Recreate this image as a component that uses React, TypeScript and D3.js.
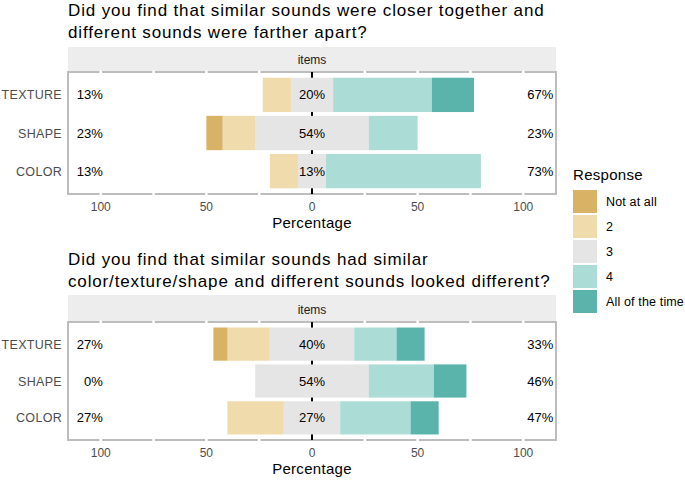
import * as d3 from "d3";
import React from "react";

const items = ["TEXTURE", "SHAPE", "COLOR"];
const levels = ["Not at all", "2", "3", "4", "All of the time"];
const levelColors = ["#D8B365", "#EFDBAC", "#E5E5E5", "#ABDCD5", "#5AB4AC"];

const title1 = [
  "Did you find that similar sounds were closer together and",
  "different sounds were farther apart?",
];
const title2 = [
  "Did you find that similar sounds had similar",
  "color/texture/shape and different sounds looked different?",
];

// percentages per item (TEXTURE, SHAPE, COLOR)
const q1NotAtAll = [0, 7.7, 0];
const q1Two = [13.3, 15.4, 13.3];
const q1Three = [20, 53.8, 13.3];
const q1Four = [46.7, 23.1, 73.3];
const q1All = [20, 0, 0];

const q2NotAtAll = [6.7, 0, 0];
const q2Two = [20, 0, 26.7];
const q2Three = [40, 53.8, 26.7];
const q2Four = [20, 30.8, 33.3];
const q2All = [13.3, 15.4, 13.3];

const ticks = [-100, -50, 0, 50, 100];
const gridVals = [-100, -75, -50, -25, 25, 50, 75, 100];

const FONT = "'Liberation Sans', Arial, Helvetica, sans-serif";

const x = d3.scaleLinear().domain([-115.5, 115.5]).range([68, 556]);

type PanelProps = {
  title: string[];
  titleY: number;
  stripTop: number;
  top: number;
  bottom: number;
  series: number[][];
};

const Panel = ({ title, titleY, stripTop, top, bottom, series }: PanelProps) => {
  const y = d3.scalePoint<string>().domain(items).range([top, bottom]).padding(0.6);
  const bh = y.step() * 0.9;
  const [na, two, three, four, all] = series;

  const segs: { item: string; lvl: number; x0: number; x1: number }[] = [];
  items.forEach((item, i) => {
    const h = three[i] / 2;
    segs.push({ item, lvl: 2, x0: -h, x1: h });
    segs.push({ item, lvl: 1, x0: -h - two[i], x1: -h });
    segs.push({ item, lvl: 0, x0: -h - two[i] - na[i], x1: -h - two[i] });
    segs.push({ item, lvl: 3, x0: h, x1: h + four[i] });
    segs.push({ item, lvl: 4, x0: h + four[i], x1: h + four[i] + all[i] });
  });

  const [xl, xr] = x.range();

  return (
    <g>
      {title.map((t, i) => (
        <text key={i} x={68} y={titleY + i * 22} fontSize={17} fill="#000" letterSpacing={0.85}>
          {t}
        </text>
      ))}
      <rect x={xl} y={stripTop} width={xr - xl} height={top - stripTop} fill="#EDEDED" />
      <text x={x(0)} y={top - 8} fontSize={12} fill="#1A1A1A" textAnchor="middle">
        items
      </text>
      <rect x={xl} y={top} width={xr - xl} height={bottom - top} fill="#fff" stroke="#BDBDBD" strokeWidth={2} />
      {gridVals.map((v) => (
        <line key={v} x1={x(v)} x2={x(v)} y1={top - 1.5} y2={bottom + 1.5} stroke="#fff" strokeWidth={2.5} />
      ))}
      <line x1={x(0)} x2={x(0)} y1={top} y2={bottom} stroke="#000" strokeWidth={2} />
      {segs
        .filter((s) => s.x1 - s.x0 > 0)
        .map((s, i) => (
          <rect
            key={i}
            x={x(s.x0)}
            width={x(s.x1) - x(s.x0)}
            y={(y(s.item) as number) - bh / 2}
            height={bh}
            fill={levelColors[s.lvl]}
          />
        ))}
      {items.map((item, i) => {
        const cy = y(item) as number;
        const low = Math.round(na[i] + two[i]);
        const high = Math.round(four[i] + all[i]);
        const mid = Math.round(three[i]);
        return (
          <g key={item} fontSize={13} fill="#000">
            <text x={62} y={cy + 4.5} textAnchor="end" fill="#4D4D4D" fontSize={12.5} letterSpacing={0.3}>
              {item}
            </text>
            <text x={x(-100) + 2} y={cy + 4.5} textAnchor="end">{low}%</text>
            <text x={x(0)} y={cy + 4.5} textAnchor="middle">{mid}%</text>
            <text x={x(100) + 4} y={cy + 4.5}>{high}%</text>
          </g>
        );
      })}
      {ticks.map((t) => (
        <text key={t} x={x(t)} y={bottom + 17} textAnchor="middle" fontSize={12} fill="#4D4D4D">
          {Math.abs(t)}
        </text>
      ))}
      <text x={x(0)} y={bottom + 34} textAnchor="middle" fontSize={15} fill="#000" letterSpacing={0.3}>
        Percentage
      </text>
    </g>
  );
};

const Legend = () => (
  <g>
    <text x={573} y={180} fontSize={15} fill="#000" letterSpacing={0.3}>Response</text>
    {levels.map((l, i) => (
      <g key={l}>
        <rect x={573} y={190 + i * 25} width={24} height={23} fill={levelColors[i]} />
        <text x={606} y={190 + i * 25 + 16} fontSize={12.5} fill="#000" letterSpacing={0.15}>{l}</text>
      </g>
    ))}
  </g>
);

export default function App() {
  return (
    <div style={{ position: "absolute", left: 0, top: 0 }}>
      <svg width={685} height={481} style={{ display: "block", fontFamily: FONT }}>
        <rect width={685} height={481} fill="#fff" />
        <Panel
          title={title1}
          titleY={16}
          stripTop={47}
          top={72}
          bottom={194}
          series={[q1NotAtAll, q1Two, q1Three, q1Four, q1All]}
        />
        <Panel
          title={title2}
          titleY={265}
          stripTop={295}
          top={322}
          bottom={440}
          series={[q2NotAtAll, q2Two, q2Three, q2Four, q2All]}
        />
        <Legend />
      </svg>
    </div>
  );
}
